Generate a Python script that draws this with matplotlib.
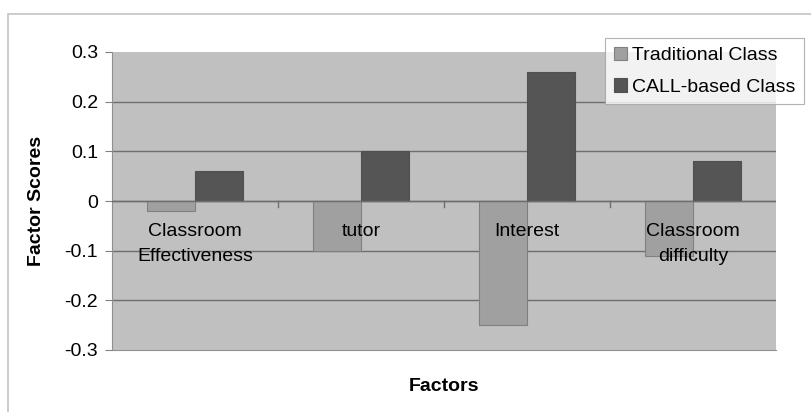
import numpy as np
import matplotlib.pyplot as plt
from matplotlib.patches import Rectangle

plt.rcParams['font.family'] = ['Liberation Sans', 'DejaVu Sans']

# Factor scores per group
factors = ['Classroom\nEffectiveness', 'tutor', 'Interest', 'Classroom\ndifficulty']
traditional = [-0.02, -0.10, -0.25, -0.11]
call_based = [0.06, 0.10, 0.26, 0.08]
series_names = ['Traditional Class', 'CALL-based Class']
yticks = [-0.3, -0.2, -0.1, 0, 0.1, 0.2, 0.3]

fig = plt.figure(figsize=(8.12, 4.12), dpi=100)
# chart frame, cut off at the right and bottom edges
fig.patches.append(Rectangle((8.5 / 812, -10 / 412), 830 / 812, 408 / 412,
                             transform=fig.transFigure, fill=False,
                             edgecolor='#c4c4c4', linewidth=1.2))
ax = fig.add_axes([112 / 812, 62 / 412, 664 / 812, 298 / 412])
ax.set_facecolor('#c0c0c0')

x = np.arange(len(factors))
w = 0.29
ax.bar(x - w / 2, traditional, w, color='#a0a0a0', edgecolor='#808080',
       linewidth=0.8, label=series_names[0], zorder=3)
ax.bar(x + w / 2, call_based, w, color='#555555', edgecolor='#505050',
       linewidth=0.8, label=series_names[1], zorder=3)

ax.set_xlim(-0.5, len(factors) - 0.5)
ax.set_ylim(-0.3, 0.3)
ax.set_yticks(yticks)
ax.set_yticklabels(['-0.3', '-0.2', '-0.1', '0', '0.1', '0.2', '0.3'], fontsize=14)
ax.tick_params(axis='y', length=5, color='#808080', pad=5)
ax.set_xticks([])
for y in yticks[1:-1]:
    ax.axhline(y, color='#6e6e6e', linewidth=1, zorder=1)

# category axis drawn at zero with ticks between groups
ax.axhline(0, color='#6e6e6e', linewidth=1, zorder=4)
for b in x[1:] - 0.5:
    ax.plot([b, b], [0, -0.012], color='#6e6e6e', linewidth=1, zorder=4)
for i, name in enumerate(factors):
    ax.annotate(name, xy=(i, 0), xytext=(0, -16), textcoords='offset points',
                ha='center', va='top', fontsize=14, linespacing=1.6, zorder=5)

for s in ax.spines.values():
    s.set_color('#909090')
    s.set_linewidth(0.8)
ax.spines['top'].set_visible(False)
ax.spines['right'].set_visible(False)

ax.set_ylabel('Factor Scores', fontsize=14, fontweight='bold', labelpad=14)
ax.set_xlabel('Factors', fontsize=14, fontweight='bold', labelpad=20)

leg = fig.legend(loc='upper left', bbox_to_anchor=(605 / 812, 1 - 38 / 412),
                 fontsize=14, frameon=True, fancybox=False, handlelength=0.7,
                 handleheight=0.7, handletextpad=0.25, borderpad=0.45,
                 labelspacing=0.7, borderaxespad=0)
leg.get_frame().set_edgecolor('#a0a0a0')
leg.get_frame().set_linewidth(0.8)

fig.savefig('out.png', dpi=100)
